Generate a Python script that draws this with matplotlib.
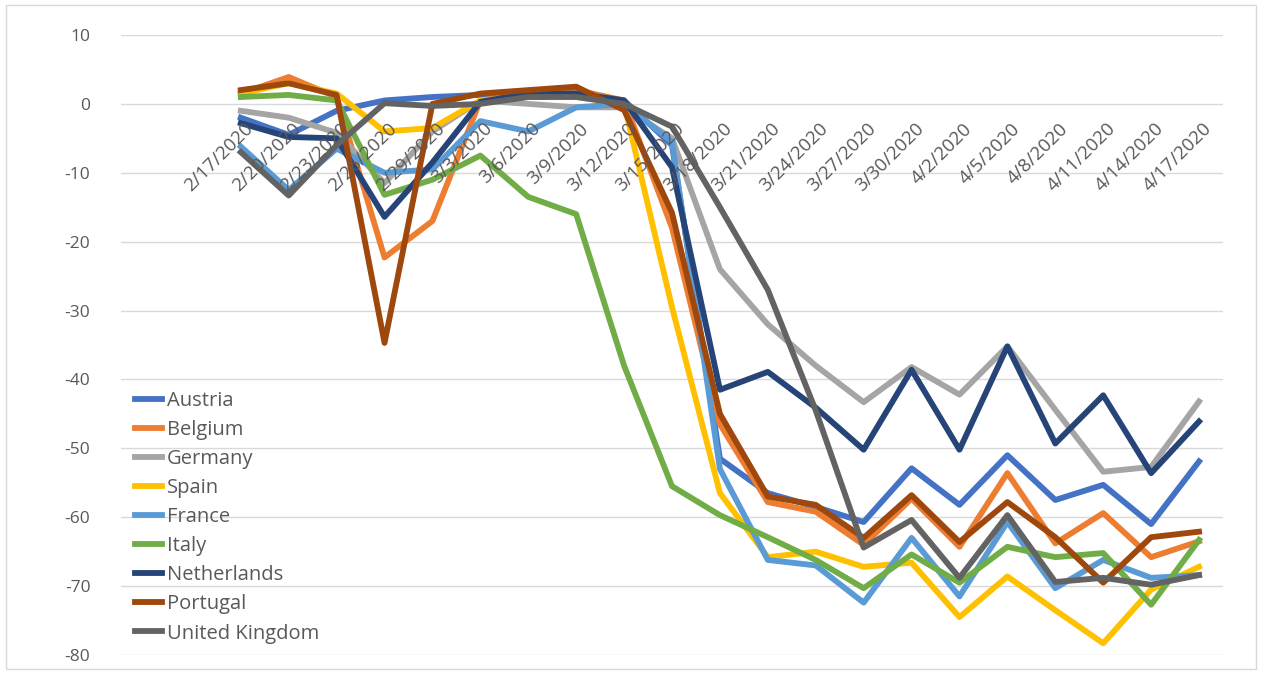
import numpy as np
import matplotlib
matplotlib.use("Agg")
from matplotlib import pyplot as plt

# dates every 3 days, 2/17/2020 .. 4/17/2020
dates = ['2/17/2020', '2/20/2020', '2/23/2020', '2/26/2020', '2/29/2020',
         '3/3/2020', '3/6/2020', '3/9/2020', '3/12/2020', '3/15/2020',
         '3/18/2020', '3/21/2020', '3/24/2020', '3/27/2020', '3/30/2020',
         '4/2/2020', '4/5/2020', '4/8/2020', '4/11/2020', '4/14/2020', '4/17/2020']

austria = [-2, -4.5, -1, 0.5, 1, 1.3, 1.5, 1.5, 0.5, -6, -51.5, -56.5, -58.5,
           -60.7, -52.9, -58.2, -51, -57.5, -55.3, -61, -51.9]
belgium = [1.5, 3.9, 1, -22.3, -17, 0.5, 1.5, 2, 0.5, -18, -46.5, -57.8, -59.2,
           -64, -57.3, -64.3, -53.6, -63.8, -59.4, -65.8, -63.5]
germany = [-1, -2, -4.2, -11.5, -4, 0.5, 0, -0.5, -0.5, -5, -24, -32, -38,
           -43.3, -38.2, -42.2, -35.2, -44.4, -53.4, -52.7, -43.2]
spain = [1.5, 3, 1.5, -4, -3.5, 0.5, 1, 1, 0, -29.5, -56.5, -65.8, -65,
         -67.2, -66.6, -74.5, -68.6, -73.5, -78.3, -70.5, -67.2]
france = [-6.2, -12.5, -6.5, -10, -9.5, -2.5, -4, -0.5, 0, -5.5, -53, -66.2,
          -67, -72.4, -63, -71.5, -60.7, -70.3, -66.2, -68.8, -68.4]
italy = [1, 1.3, 0.5, -13.2, -11, -7.5, -13.5, -16, -38, -55.5, -59.7, -62.9,
         -66.2, -70.3, -65.4, -69.5, -64.3, -65.8, -65.2, -72.7, -63.3]
netherlands = [-2.8, -4.8, -5, -16.4, -8.5, 0.3, 1.5, 1.5, 0.5, -9.2, -41.5,
               -38.9, -44.1, -50.2, -38.6, -50.2, -35.2, -49.3, -42.3, -53.6, -46.1]
portugal = [2, 3, 1.3, -34.7, 0, 1.5, 2, 2.5, -0.9, -15.8, -45, -57, -58.2,
            -63, -56.8, -63.6, -57.8, -62.9, -69.5, -62.9, -62.1]
uk = [-7, -13.3, -6, 0.1, -0.3, 0, 1, 1, 0, -3.3, -15, -27, -44.5, -64.4,
      -60.4, -68.8, -59.7, -69.4, -68.8, -69.8, -68.4]

names = ['Austria', 'Belgium', 'Germany', 'Spain', 'France', 'Italy',
         'Netherlands', 'Portugal', 'United Kingdom']
colors = ['#4472C4', '#ED7D31', '#A5A5A5', '#FFC000', '#5B9BD5', '#70AD47',
          '#264478', '#9E480E', '#636363']
series = [austria, belgium, germany, spain, france, italy, netherlands, portugal, uk]

plt.rcParams['font.family'] = ['Open Sans', 'DejaVu Sans']
plt.rcParams['axes.unicode_minus'] = False

fig = plt.figure(figsize=(12.62, 6.73), dpi=100)
ax = fig.add_axes([121/1262, 1 - 655/673, 1102/1262, 620/673])

x = np.arange(len(dates))
for vals, name, col in zip(series, names, colors):
    ax.plot(x, vals, color=col, lw=4.2, label=name)

ax.set_xlim(-2.5, len(dates) - 0.5)
ax.set_ylim(-80, 10)
ax.set_yticks(np.arange(-80, 11, 10))
ax.yaxis.grid(True, color='#D9D9D9', lw=1)
ax.set_axisbelow(True)
ax.set_xticks([])
for s in ax.spines.values():
    s.set_visible(False)
ax.tick_params(axis='y', length=0, pad=22, labelsize=12.5, labelcolor='#595959')

# category labels sit under the zero line, rotated like Excel
for i, d in enumerate(dates):
    ax.text(i + 0.2, -3.2, d, rotation=45, rotation_mode='anchor',
            ha='right', va='center', fontsize=13.5, color='#595959')

ax.legend(loc='upper left', bbox_to_anchor=(-0.004, 0.455), frameon=False,
          fontsize=14.5, labelcolor='#595959', handlelength=1.35,
          handletextpad=0.25, labelspacing=0.45)

# chart border
fig.patches.append(plt.Rectangle((6/1262, 4/673), 1250/1262, 664/673,
                                 transform=fig.transFigure, fill=False,
                                 ec='#D9D9D9', lw=1))

fig.savefig('out.png', dpi=100)
